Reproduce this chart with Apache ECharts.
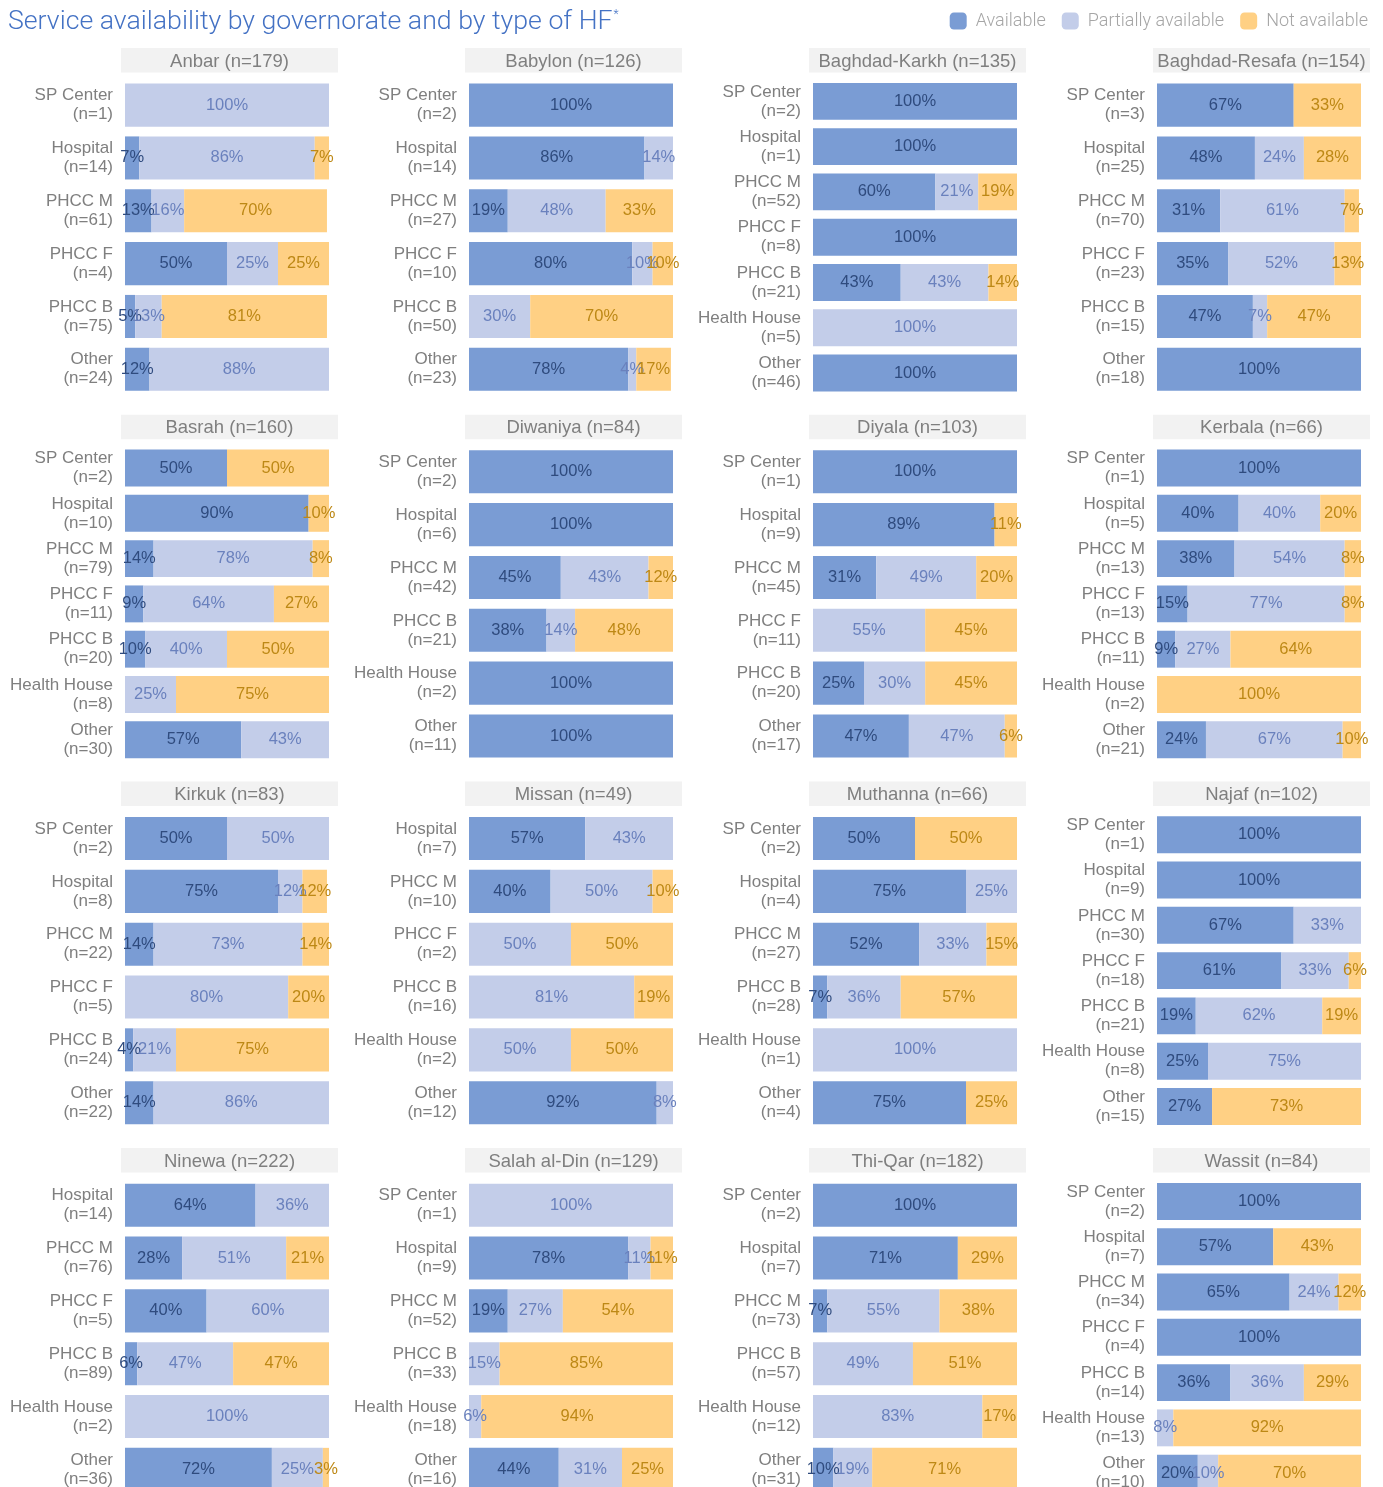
<!DOCTYPE html>
<html>
<head>
<meta charset="utf-8">
<script src="https://cdn.jsdelivr.net/npm/echarts@6/dist/echarts.min.js"></script>
<style>
  html, body { margin: 0; padding: 0; background: #ffffff; }
  #chart { width: 1383px; height: 1487px; }
</style>
</head>
<body>
<div id="chart"></div>
<script>
// ---- Data: share of facilities (%) per governorate and facility type ----
const governorates = ['Anbar', 'Babylon', 'Baghdad-Karkh', 'Baghdad-Resafa',
  'Basrah', 'Diwaniya', 'Diyala', 'Kerbala',
  'Kirkuk', 'Missan', 'Muthanna', 'Najaf',
  'Ninewa', 'Salah al-Din', 'Thi-Qar', 'Wassit'];
const governorateN = [179, 126, 135, 154, 160, 84, 103, 66, 83, 49, 66, 102, 222, 129, 182, 84];

const facilityTypes = [
  ['SP Center', 'Hospital', 'PHCC M', 'PHCC F', 'PHCC B', 'Other'],
  ['SP Center', 'Hospital', 'PHCC M', 'PHCC F', 'PHCC B', 'Other'],
  ['SP Center', 'Hospital', 'PHCC M', 'PHCC F', 'PHCC B', 'Health House', 'Other'],
  ['SP Center', 'Hospital', 'PHCC M', 'PHCC F', 'PHCC B', 'Other'],
  ['SP Center', 'Hospital', 'PHCC M', 'PHCC F', 'PHCC B', 'Health House', 'Other'],
  ['SP Center', 'Hospital', 'PHCC M', 'PHCC B', 'Health House', 'Other'],
  ['SP Center', 'Hospital', 'PHCC M', 'PHCC F', 'PHCC B', 'Other'],
  ['SP Center', 'Hospital', 'PHCC M', 'PHCC F', 'PHCC B', 'Health House', 'Other'],
  ['SP Center', 'Hospital', 'PHCC M', 'PHCC F', 'PHCC B', 'Other'],
  ['Hospital', 'PHCC M', 'PHCC F', 'PHCC B', 'Health House', 'Other'],
  ['SP Center', 'Hospital', 'PHCC M', 'PHCC B', 'Health House', 'Other'],
  ['SP Center', 'Hospital', 'PHCC M', 'PHCC F', 'PHCC B', 'Health House', 'Other'],
  ['Hospital', 'PHCC M', 'PHCC F', 'PHCC B', 'Health House', 'Other'],
  ['SP Center', 'Hospital', 'PHCC M', 'PHCC B', 'Health House', 'Other'],
  ['SP Center', 'Hospital', 'PHCC M', 'PHCC B', 'Health House', 'Other'],
  ['SP Center', 'Hospital', 'PHCC M', 'PHCC F', 'PHCC B', 'Health House', 'Other']
];

const facilityN = [
  [1, 14, 61, 4, 75, 24],
  [2, 14, 27, 10, 50, 23],
  [2, 1, 52, 8, 21, 5, 46],
  [3, 25, 70, 23, 15, 18],
  [2, 10, 79, 11, 20, 8, 30],
  [2, 6, 42, 21, 2, 11],
  [1, 9, 45, 11, 20, 17],
  [1, 5, 13, 13, 11, 2, 21],
  [2, 8, 22, 5, 24, 22],
  [7, 10, 2, 16, 2, 12],
  [2, 4, 27, 28, 1, 4],
  [1, 9, 30, 18, 21, 8, 15],
  [14, 76, 5, 89, 2, 36],
  [1, 9, 52, 33, 18, 16],
  [2, 7, 73, 57, 12, 31],
  [2, 7, 34, 4, 14, 13, 10]
];

const available = [
  [null, 7, 13, 50, 5, 12],
  [100, 86, 19, 80, null, 78],
  [100, 100, 60, 100, 43, null, 100],
  [67, 48, 31, 35, 47, 100],
  [50, 90, 14, 9, 10, null, 57],
  [100, 100, 45, 38, 100, 100],
  [100, 89, 31, null, 25, 47],
  [100, 40, 38, 15, 9, null, 24],
  [50, 75, 14, null, 4, 14],
  [57, 40, null, null, null, 92],
  [50, 75, 52, 7, null, 75],
  [100, 100, 67, 61, 19, 25, 27],
  [64, 28, 40, 6, null, 72],
  [null, 78, 19, null, null, 44],
  [100, 71, 7, null, null, 10],
  [100, 57, 65, 100, 36, null, 20]
];

const partial = [
  [100, 86, 16, 25, 13, 88],
  [null, 14, 48, 10, 30, 4],
  [null, null, 21, null, 43, 100, null],
  [null, 24, 61, 52, 7, null],
  [null, null, 78, 64, 40, 25, 43],
  [null, null, 43, 14, null, null],
  [null, null, 49, 55, 30, 47],
  [null, 40, 54, 77, 27, null, 67],
  [50, 12, 73, 80, 21, 86],
  [43, 50, 50, 81, 50, 8],
  [null, 25, 33, 36, 100, null],
  [null, null, 33, 33, 62, 75, null],
  [36, 51, 60, 47, 100, 25],
  [100, 11, 27, 15, 6, 31],
  [null, null, 55, 49, 83, 19],
  [null, null, 24, null, 36, 8, 10]
];

const notAvailable = [
  [null, 7, 70, 25, 81, null],
  [null, null, 33, 10, 70, 17],
  [null, null, 19, null, 14, null, null],
  [33, 28, 7, 13, 47, null],
  [50, 10, 8, 27, 50, 75, null],
  [null, null, 12, 48, null, null],
  [null, 11, 20, 45, 45, 6],
  [null, 20, 8, 8, 64, 100, 10],
  [null, 12, 14, 20, 75, null],
  [null, 10, 50, 19, 50, null],
  [50, null, 15, 57, null, 25],
  [null, null, null, 6, 19, null, 73],
  [null, 21, null, 47, null, 3],
  [null, 11, 54, 85, 94, 25],
  [null, 29, 38, 51, 17, 71],
  [null, 43, 12, null, 29, 92, 70]
];

const statusNames = ['Available', 'Partially available', 'Not available'];

// ---- Styling ----
const barColors = ['#7a9cd4', '#c3cde9', '#ffd084'];
const valueLabelColors = ['#2f4b7e', '#6a81bd', '#bd8815'];
const labelFont = '"Liberation Sans", Arial, sans-serif';

// Small-multiple layout (4 x 4 panels)
const COLS = 4;
const colStep = 344, rowStep = 366.7;
const barLeft0 = 125, barWidth = 204;
const headLeft0 = 121, headWidth = 217, headTop0 = 48, headHeight = 24.5;
const gridOffset = 30.7, gridHeight = 317;

const grids = [], xAxes = [], yAxes = [], series = [], graphics = [];
const statusValues = [available, partial, notAvailable];

governorates.forEach((gov, i) => {
  const col = i % COLS, row = Math.floor(i / COLS);
  const headTop = headTop0 + row * rowStep;
  const headLeft = headLeft0 + col * colStep;

  graphics.push({
    type: 'rect', silent: true,
    shape: { x: headLeft, y: headTop, width: headWidth, height: headHeight },
    style: { fill: '#f2f2f2' }
  });
  graphics.push({
    type: 'text', silent: true,
    x: headLeft + headWidth / 2, y: headTop + headHeight / 2 + 1.2,
    style: {
      text: gov + ' (n=' + governorateN[i] + ')',
      fill: '#7f7f7f', fontSize: 18.5, fontFamily: labelFont,
      align: 'center', verticalAlign: 'middle',
      textAlign: 'center', textVerticalAlign: 'middle'
    }
  });

  grids.push({
    left: barLeft0 + col * colStep,
    top: headTop + gridOffset,
    width: barWidth,
    height: gridHeight,
    outerBoundsMode: 'none',
    containLabel: false
  });
  xAxes.push({ type: 'value', gridIndex: i, min: 0, max: 100, show: false });
  yAxes.push({
    type: 'category', gridIndex: i, inverse: true,
    data: facilityTypes[i].map((t, k) => t + '\n(n=' + facilityN[i][k] + ')'),
    axisLine: { show: false }, axisTick: { show: false }, splitLine: { show: false },
    axisLabel: {
      interval: 0, margin: 12, color: '#7f7f7f',
      fontSize: 17, lineHeight: 19, fontFamily: labelFont, align: 'right'
    }
  });

  statusNames.forEach((name, s) => {
    series.push({
      name: name, type: 'bar', stack: 'gov' + i,
      xAxisIndex: i, yAxisIndex: i,
      barCategoryGap: '18.5%',
      itemStyle: { color: barColors[s] },
      label: {
        show: true, position: 'inside', formatter: '{c}%',
        color: valueLabelColors[s], fontSize: 16.5, fontFamily: labelFont
      },
      emphasis: { disabled: true },
      data: statusValues[s][i]
    });
  });
});

const chart = echarts.init(document.getElementById('chart'), null, { renderer: 'canvas' });
chart.setOption({
  backgroundColor: '#ffffff',
  animation: false,
  title: {
    text: 'Service availability by governorate and by type of HF{sup|*}',
    left: 8, top: 9, padding: 0,
    textStyle: {
      color: '#4472c4', fontSize: 26.7, fontWeight: 300,
      fontFamily: 'Roboto, "Liberation Sans", Arial, sans-serif',
      rich: {
        sup: { fontSize: 12, color: '#4472c4', verticalAlign: 'top', padding: [0, 0, 0, 1] }
      }
    }
  },
  legend: {
    data: statusNames,
    right: 15, top: 12, padding: 0,
    itemWidth: 17, itemHeight: 17, itemGap: 16,
    icon: 'roundRect',
    textStyle: {
      color: '#a6a6a6', fontSize: 18, fontWeight: 300,
      fontFamily: 'Roboto, "Liberation Sans", Arial, sans-serif',
      padding: [0, 0, 0, 4]
    }
  },
  grid: grids,
  xAxis: xAxes,
  yAxis: yAxes,
  series: series,
  graphic: graphics
});
</script>
</body>
</html>
